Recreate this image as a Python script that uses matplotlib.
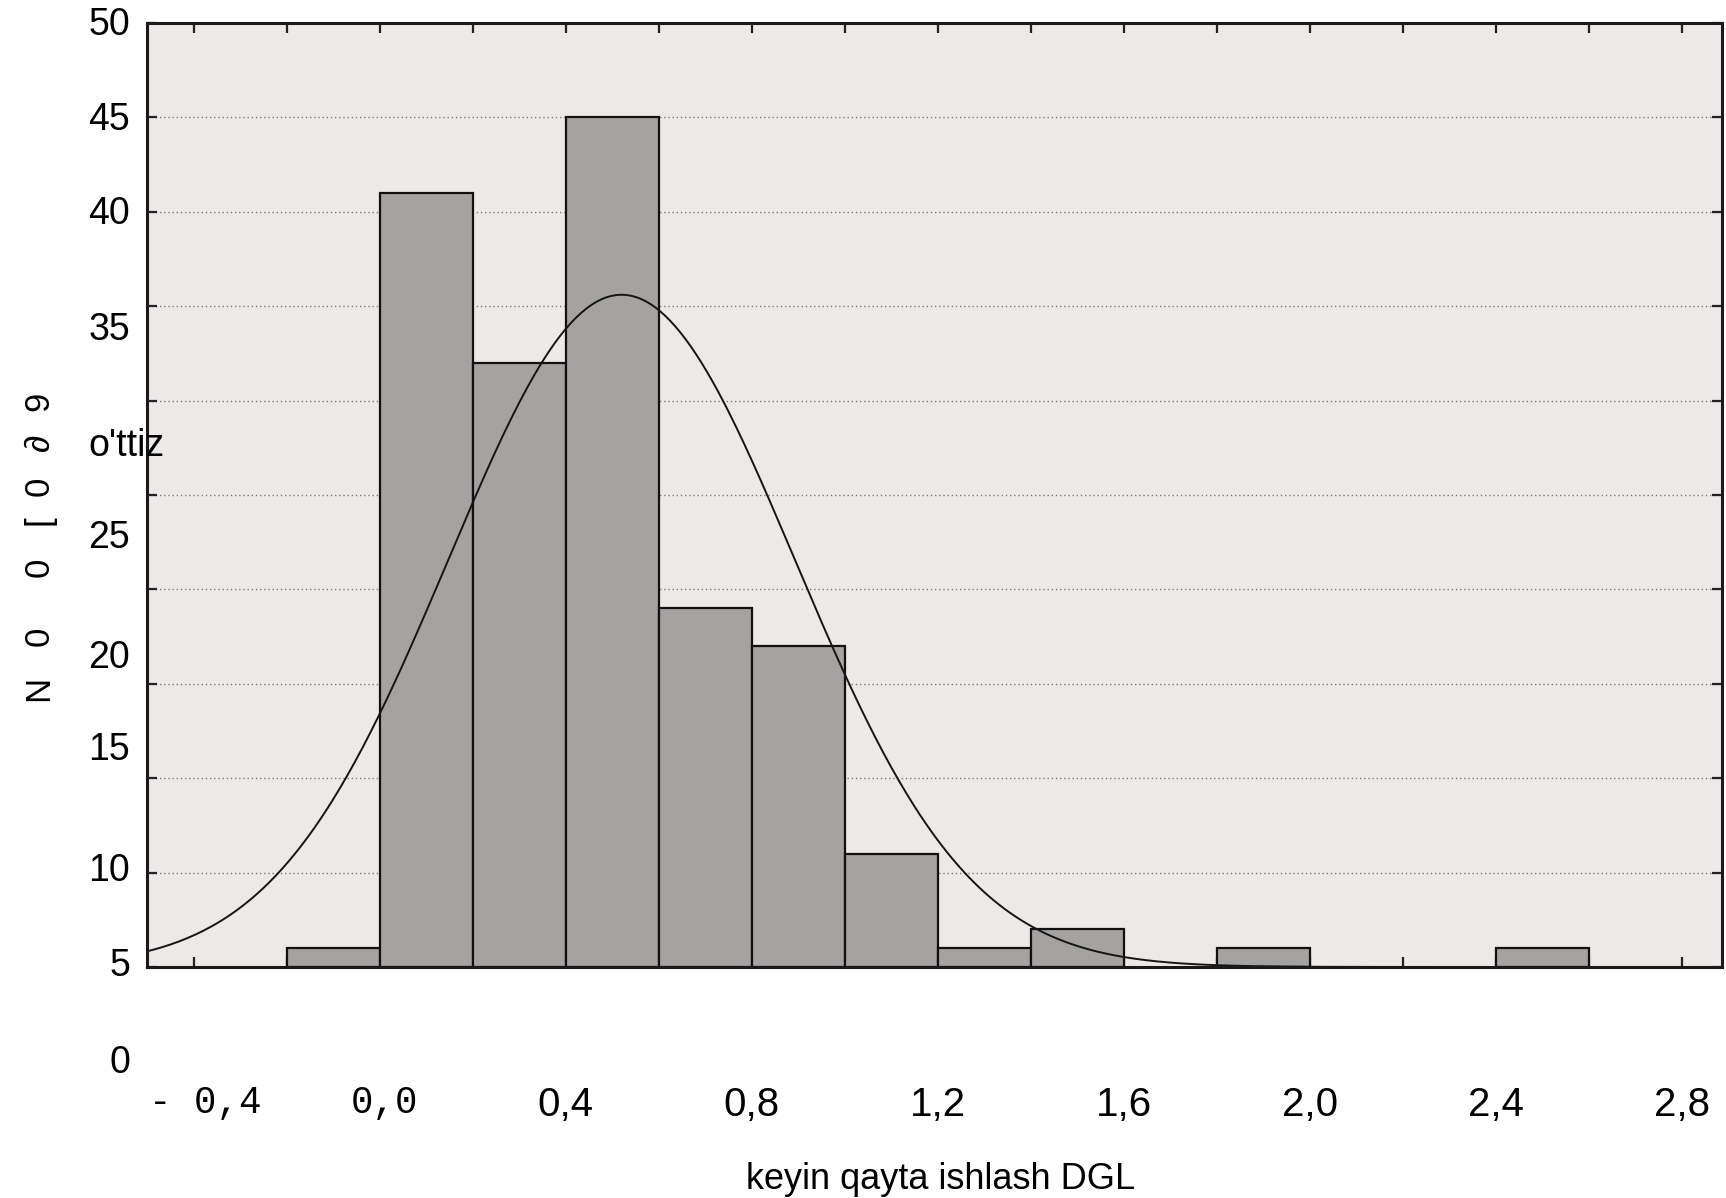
import numpy as np
import matplotlib
matplotlib.use("Agg")
import matplotlib.pyplot as plt
import matplotlib.transforms as mtransforms

# ---------------- data ----------------
bin_left_edges = [-0.2, 0.0, 0.2, 0.4, 0.6, 0.8, 1.0, 1.2, 1.4, 1.6, 1.8, 2.0, 2.2, 2.4]
bin_counts = [1, 41, 32, 45, 19, 17, 6, 1, 2, 0, 1, 0, 0, 1]
bin_width = 0.2
fit_mean = 0.52
fit_sd = 0.372

x_tick_values = [-0.4, 0.0, 0.4, 0.8, 1.2, 1.6, 2.0, 2.4, 2.8]
x_tick_labels = ["- 0,4", "0,0", "0,4", "0,8", "1,2", "1,6", "2,0", "2,4", "2,8"]
y_tick_labels = ["50", "45", "40", "35", "o'ttiz", "25", "20", "15", "10", "5", "0"]
y_label_glyphs = ["N", "0", "0", "[", "0", "\u2202", "9"]
x_title = "keyin qayta ishlash DGL"

# ---------------- layout ----------------
W, H = 1726, 1198
DPI = 100
fig = plt.figure(figsize=(W / DPI, H / DPI), dpi=DPI)
fig.patch.set_facecolor("white")

ax_l, ax_r, ax_t, ax_b = 147, 1722, 23, 967
ax = fig.add_axes([ax_l / W, 1 - ax_b / H, (ax_r - ax_l) / W, (ax_b - ax_t) / H])
ax.set_facecolor("#ece9e6")
ax.set_xlim(-0.5, 2.885)
ax.set_ylim(0, 50)

# gridlines
ax.set_yticks(np.arange(0, 51, 5))
ax.set_xticks(np.round(np.arange(-0.4, 2.81, 0.2), 2))
ax.yaxis.grid(True, linestyle=(0, (1, 2)), color="#7e7c7a", linewidth=1.0, zorder=0)
ax.set_axisbelow(True)
ax.tick_params(axis="both", which="both", direction="in", length=7, width=1.6,
               labelleft=False, labelbottom=False, top=True, right=True, color="#222222")

# bars
nz = [(e, c) for e, c in zip(bin_left_edges, bin_counts) if c > 0]
ax.bar([e for e, c in nz], [c for e, c in nz], width=bin_width, align="edge",
       color="#a4a3a1", edgecolor="#111111", linewidth=1.6, zorder=2)

# fitted normal curve
xs = np.linspace(-0.5, 2.885, 600)
total = sum(bin_counts)
ys = total * bin_width / (fit_sd * np.sqrt(2 * np.pi)) * np.exp(-0.5 * ((xs - fit_mean) / fit_sd) ** 2)
ax.plot(xs, ys, color="#151515", linewidth=1.4, zorder=3, clip_on=True)

for s in ax.spines.values():
    s.set_linewidth(2.2)
    s.set_color("#1a1a1a")
    s.set_zorder(4)

def fx(px):
    return px / W

def fy(py):
    return 1 - py / H

# y tick labels (as printed in the scanned chart)
y_label_centers_px = [22, 117, 211, 327, 443, 535, 655, 747, 868, 963, 1060]
sans = ["Liberation Sans", "DejaVu Sans"]
for lab, cy in zip(y_tick_labels, y_label_centers_px):
    if lab == "o'ttiz":
        fig.text(fx(88), fy(cy + 13), lab, ha="left", va="baseline",
                 fontsize=27, family=sans, zorder=10)
    else:
        fig.text(fx(130), fy(cy + 13), lab, ha="right", va="baseline",
                 fontsize=27, family=sans)

# x tick labels
mono = ["Liberation Mono", "DejaVu Sans Mono"]
narrow = ["Liberation Sans Narrow", "Liberation Sans", "DejaVu Sans"]
trans_x = mtransforms.blended_transform_factory(ax.transData, fig.transFigure)
for v, lab in zip(x_tick_values, x_tick_labels):
    if lab.startswith("- ") or lab == "0,0":
        off = 0.025 if lab.startswith("- ") else 0.011
        fig.text(v + off, fy(1101 + 12), lab, transform=trans_x, ha="center",
                 va="baseline", fontsize=27, family=mono)
    else:
        fig.text(v, fy(1101 + 15), lab, transform=trans_x, ha="center",
                 va="baseline", fontsize=29, family=narrow, fontstretch="condensed")

# x axis title
fig.text(fx(941), fy(1176 + 13), x_title, ha="center", va="baseline",
         fontsize=26, family=narrow, fontstretch="condensed")

# rotated y axis label glyphs
glyph_centers_px = [688, 636, 567, 520, 486, 442, 401]
for g, cy in zip(y_label_glyphs, glyph_centers_px):
    fig.text(fx(39), fy(cy), g, rotation=90, ha="center", va="center",
             fontsize=25, family=sans)

fig.savefig("out.png", dpi=DPI, facecolor="white")
